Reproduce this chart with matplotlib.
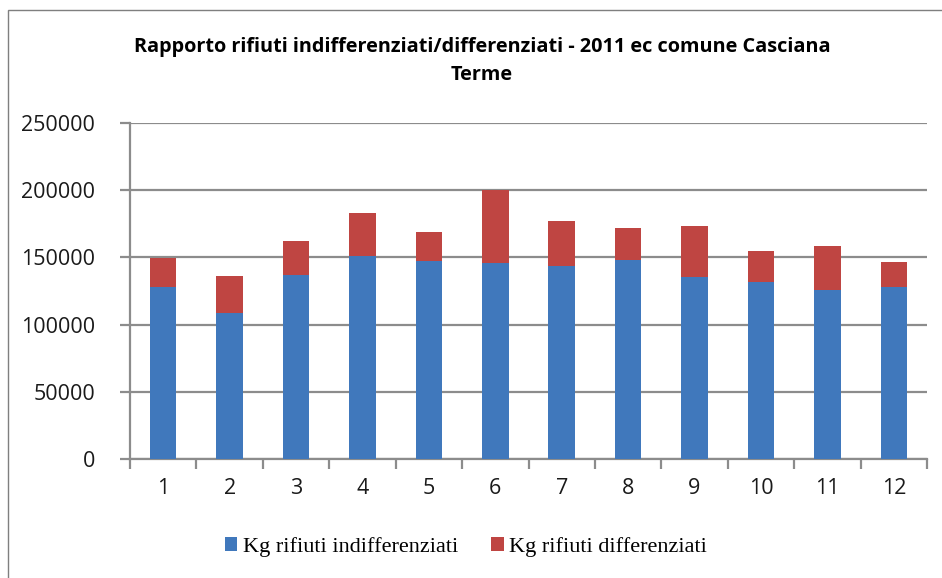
import matplotlib
matplotlib.use("Agg")
import matplotlib.pyplot as plt
from matplotlib.patches import Rectangle
import numpy as np

# --- Monthly waste data, Casciana Terme 2011 (kg) ---
months = ["1", "2", "3", "4", "5", "6", "7", "8", "9", "10", "11", "12"]
indifferenziati = [128200, 108800, 136900, 150700, 147300, 145500,
                   143300, 148200, 135100, 131400, 125700, 127700]
totale = [149700, 136300, 162300, 183400, 168600, 200500,
          177000, 171800, 173000, 154500, 158200, 146300]
differenziati = [t - i for t, i in zip(totale, indifferenziati)]

y_ticks = [0, 50000, 100000, 150000, 200000, 250000]

BLUE = "#4078BC"
RED = "#BF4542"
GRID = "#8C8C8C"

# --- Figure and axes ---
W, H = 942, 578
fig = plt.figure(figsize=(W / 100, H / 100), dpi=100)
ax = fig.add_axes([130 / W, 1 - 459 / H, (927 - 130) / W, (459 - 123) / H])

# outer chart frame (left and top edges visible)
fig.add_artist(Rectangle((8 / W, -0.05), 1.2, (H - 10) / H + 0.05,
                         transform=fig.transFigure, fill=False,
                         edgecolor="#7F7F7F", linewidth=1.0))

x = np.arange(len(months)) + 0.5
ax.bar(x, indifferenziati, width=0.4, color=BLUE, zorder=3,
       label="Kg rifiuti indifferenziati")
ax.bar(x, differenziati, width=0.4, bottom=indifferenziati, color=RED,
       zorder=3, label="Kg rifiuti differenziati")

ax.set_xlim(0, len(months))
ax.set_ylim(0, 250000)

# y axis
ax.set_yticks(y_ticks)
ax.set_yticklabels([str(v) for v in y_ticks], fontfamily="Open Sans",
                   fontsize=15.5, color="#1A1A1A")
ax.yaxis.grid(True, color=GRID, linewidth=1.6, zorder=0)
ax.tick_params(axis="y", direction="out", length=7, width=1.6,
               color=GRID, pad=18)

# x axis: ticks between categories, labels centred on bars
ax.set_xticks(np.arange(len(months) + 1))
ax.set_xticklabels([])
ax.set_xticks(x, minor=True)
ax.set_xticklabels(months, minor=True, fontfamily="Open Sans",
                   fontsize=15.5, color="#1A1A1A")
ax.tick_params(axis="x", which="major", direction="out", length=7,
               width=1.6, color=GRID)
ax.tick_params(axis="x", which="minor", length=0, pad=14)

for side in ["top", "right"]:
    ax.spines[side].set_visible(False)
for side in ["left", "bottom"]:
    ax.spines[side].set_color(GRID)
    ax.spines[side].set_linewidth(1.6)
ax.set_axisbelow(True)

# --- Title ---
fig.text(482 / W, 1 - 47 / H,
         "Rapporto rifiuti indifferenziati/differenziati - 2011 ec comune Casciana",
         ha="center", va="center", fontfamily="Open Sans",
         fontweight="bold", fontsize=14.3)
fig.text(482 / W, 1 - 75 / H, "Terme", ha="center", va="center",
         fontfamily="Open Sans", fontweight="bold", fontsize=14.3)

# --- Legend ---
fig.legend(loc="center", bbox_to_anchor=(466 / W, 1 - 547 / H),
           ncol=2, frameon=False, handlelength=0.55, handleheight=0.55,
           handletextpad=0.25, columnspacing=1.5,
           prop={"family": "Liberation Serif", "size": 16})

fig.savefig("out.png", dpi=100)
